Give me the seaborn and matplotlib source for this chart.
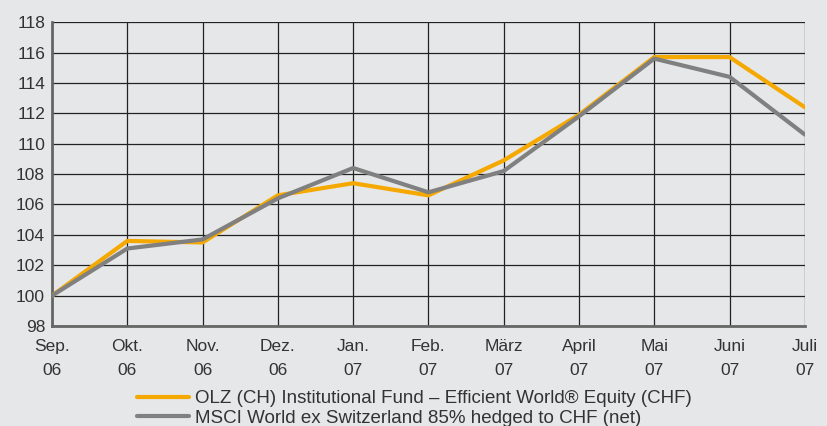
import matplotlib
matplotlib.use("Agg")
import matplotlib.pyplot as plt
import seaborn as sns
import pandas as pd

# ! Data
months = ["Sep.\n06", "Okt.\n06", "Nov.\n06", "Dez.\n06", "Jan.\n07", "Feb.\n07",
          "März\n07", "April\n07", "Mai\n07", "Juni\n07", "Juli\n07"]
olz_fund = [100.0, 103.6, 103.5, 106.6, 107.4, 106.6, 108.9, 111.9, 115.7, 115.7, 112.4]
msci_index = [100.0, 103.1, 103.7, 106.4, 108.4, 106.8, 108.2, 111.8, 115.6, 114.4, 110.6]
series_names = ["OLZ (CH) Institutional Fund – Efficient World® Equity (CHF)",
                "MSCI World ex Switzerland 85% hedged to CHF (net)"]
y_ticks = list(range(98, 119, 2))

bg = "#e6e7e9"
palette = {series_names[0]: "#f5a900", series_names[1]: "#808080"}

sns.set_theme(style="white")
plt.rcParams["font.family"] = ["Liberation Sans Narrow", "Liberation Sans", "DejaVu Sans"]
plt.rcParams["font.size"] = 12.5

df = pd.DataFrame({
    "pos": list(range(len(months))) * 2,
    "value": olz_fund + msci_index,
    "series": [series_names[0]] * len(months) + [series_names[1]] * len(months),
})

fig = plt.figure(figsize=(8.28, 4.26), dpi=100, facecolor=bg)
ax = fig.add_axes([0.0628, 0.2347, 0.9092, 0.7133])
ax.set_facecolor(bg)

sns.lineplot(data=df, x="pos", y="value", hue="series", palette=palette,
             linewidth=3, ax=ax, legend=False, zorder=3)

ax.set_xlim(0, len(months) - 1)
ax.set_ylim(98, 118)
ax.set_yticks(y_ticks)
ax.set_xticks(range(len(months)))
ax.set_xticklabels(months, fontsize=12.5, color="#333333", linespacing=1.75)
ax.set_yticklabels([str(t) for t in y_ticks], fontsize=12.5, color="#333333")
ax.tick_params(axis="x", length=0, pad=9)
ax.tick_params(axis="y", length=0, pad=5)
ax.grid(True, color="#222222", linewidth=0.9)
ax.set_xlabel("")
ax.set_ylabel("")
for side in ["top", "right"]:
    ax.spines[side].set_visible(False)
for side in ["left", "bottom"]:
    ax.spines[side].set_color("#666666")
    ax.spines[side].set_linewidth(2)

handles = [plt.Line2D([], [], color=palette[n], linewidth=3) for n in series_names]
fig.legend(handles, series_names, loc="upper center", bbox_to_anchor=(0.5, 0.084),
           ncol=1, frameon=False, fontsize=13.5, handlelength=2.8, handletextpad=0.3,
           labelspacing=0.12, borderaxespad=0, borderpad=0, labelcolor="#333333")

fig.savefig("out.png", dpi=100, facecolor=bg)
